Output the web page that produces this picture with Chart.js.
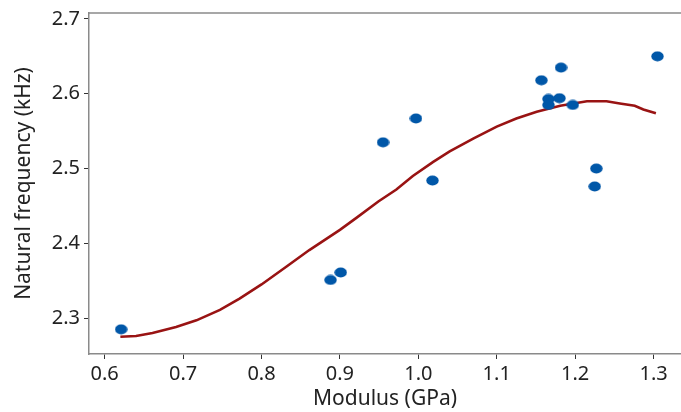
<!DOCTYPE html>
<html>
<head>
<meta charset="utf-8">
<script src="https://cdn.jsdelivr.net/npm/chart.js@4.4.0/dist/chart.umd.min.js"></script>
<style>
  html, body { margin: 0; padding: 0; background: #fff; }
  canvas { display: block; }
</style>
</head>
<body>
<canvas id="chart" width="681" height="412"></canvas>
<script>
// measured samples
var modulus = [0.621, 0.888, 0.901, 0.955, 0.997, 1.018, 1.157, 1.182, 1.166, 1.166, 1.180, 1.197, 1.227, 1.225, 1.305];
var frequency = [2.285, 2.351, 2.361, 2.535, 2.567, 2.484, 2.618, 2.635, 2.593, 2.585, 2.594, 2.585, 2.500, 2.476, 2.650];

// fitted curve
var fitX = [0.620, 0.640, 0.661, 0.691, 0.717, 0.747, 0.772, 0.800, 0.832, 0.861, 0.900, 0.921, 0.949, 0.972, 0.993, 1.019, 1.040, 1.070, 1.100, 1.125, 1.151, 1.181, 1.215, 1.240, 1.257, 1.276, 1.287, 1.303];
var fitY = [2.275, 2.276, 2.280, 2.288, 2.297, 2.311, 2.326, 2.345, 2.369, 2.391, 2.418, 2.434, 2.456, 2.472, 2.490, 2.509, 2.523, 2.540, 2.556, 2.567, 2.576, 2.584, 2.590, 2.590, 2.587, 2.584, 2.579, 2.574];

// tick labels
var xTicks = [0.6, 0.7, 0.8, 0.9, 1.0, 1.1, 1.2, 1.3];
var yTicks = [2.3, 2.4, 2.5, 2.6, 2.7];

var font = "'Noto Sans', 'Open Sans', sans-serif";

// slightly flattened dot, like the original markers
var dot = document.createElement("canvas");
dot.width = 13;
dot.height = 11;
var dctx = dot.getContext("2d");
dctx.fillStyle = "#0057a8";
dctx.beginPath();
dctx.ellipse(6.5, 5.5, 6.2, 5.0, 0, 0, Math.PI * 2);
dctx.fill();

var scatterPts = modulus.map(function (m, i) { return {x: m, y: frequency[i]}; });
var fitPts = fitX.map(function (m, i) { return {x: m, y: fitY[i]}; });

// top frame line
var topBorder = {
    id: "topBorder",
    afterDraw: function (chart) {
        var a = chart.chartArea, c = chart.ctx;
        c.save();
        c.strokeStyle = "#8a8a8a";
        c.lineWidth = 1.5;
        c.beginPath();
        c.moveTo(a.left, a.top);
        c.lineTo(chart.width, a.top);
        c.stroke();
        c.restore();
    }
};

var ctx = document.getElementById("chart").getContext("2d");
var myChart = new Chart(ctx, {
    type: "scatter",
    data: {
        datasets: [{
                label: "Measured",
                data: scatterPts,
                pointStyle: dot,
                pointRadius: 6,
                pointHoverRadius: 6
            },
            {
                label: "Fit",
                type: "line",
                data: fitPts,
                borderColor: "#991313",
                borderWidth: 2.6,
                pointRadius: 0,
                tension: 0,
                fill: false
            }
        ]
    },
    options: {
        responsive: false,
        animation: false,
        devicePixelRatio: 1,
        layout: {autoPadding: false, padding: {top: 13, right: 0, left: 0, bottom: 0}},
        plugins: {
            legend: {display: false},
            tooltip: {enabled: false}
        },
        scales: {
            x: {
                type: "linear",
                min: 0.58,
                max: 1.335,
                afterBuildTicks: function (s) { s.ticks = xTicks.map(function (v) { return {value: v}; }); },
                afterFit: function (s) {
                    s.height = 58;
                    s.paddingLeft = 0;
                    s.paddingRight = 0;
                },
                border: {color: "#8a8a8a", width: 1.5},
                grid: {drawOnChartArea: false, tickLength: 5, tickColor: "#333", tickWidth: 1},
                ticks: {
                    color: "#222",
                    padding: 3,
                    font: {family: font, size: 20},
                    callback: function (v) { return v.toFixed(1); }
                },
                title: {
                    display: true,
                    text: "Modulus (GPa)",
                    color: "#222",
                    padding: {top: 0, bottom: 0},
                    font: {family: font, size: 21}
                }
            },
            y: {
                min: 2.252,
                max: 2.708,
                afterBuildTicks: function (s) { s.ticks = yTicks.map(function (v) { return {value: v}; }); },
                afterFit: function (s) {
                    s.width = 89;
                    s.paddingTop = 0;
                    s.paddingBottom = 0;
                },
                border: {color: "#8a8a8a", width: 1.5},
                grid: {drawOnChartArea: false, tickLength: 5, tickColor: "#333", tickWidth: 1},
                ticks: {
                    color: "#222",
                    padding: 4,
                    font: {family: font, size: 20},
                    callback: function (v) { return v.toFixed(1); }
                },
                title: {
                    display: true,
                    text: "Natural frequency (kHz)",
                    color: "#222",
                    padding: {top: 11, bottom: 0},
                    font: {family: font, size: 21}
                }
            }
        }
    },
    plugins: [topBorder]
});
</script>
</body>
</html>
